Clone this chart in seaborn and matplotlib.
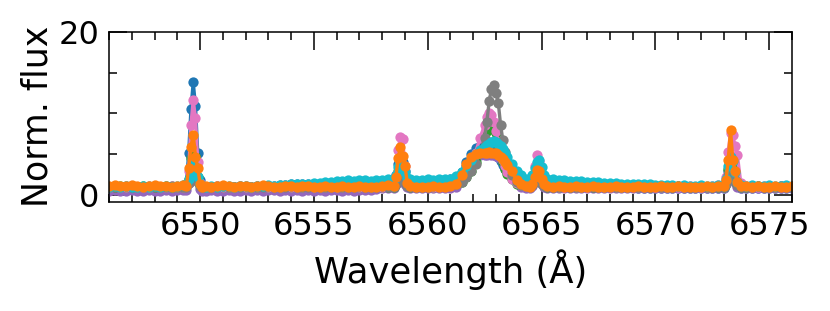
import numpy as np
import pandas as pd
import matplotlib
matplotlib.use("Agg")
import matplotlib.pyplot as plt
from matplotlib.ticker import MultipleLocator
import seaborn as sns

# ---------------- data ----------------
wavelength = [
    # continuum 6546-6549.25
    6546.0, 6546.25, 6546.5, 6546.75, 6547.0, 6547.25, 6547.5, 6547.75, 6548.0, 6548.25, 6548.5, 6548.75, 6549.0, 6549.25,
    # line ~6549.75
    6549.4, 6549.5, 6549.6, 6549.7, 6549.8, 6549.9, 6550.0, 6550.1,
    # continuum 6550.25-6558.25
    6550.25, 6550.5, 6550.75, 6551.0, 6551.25, 6551.5, 6551.75, 6552.0, 6552.25, 6552.5, 6552.75, 6553.0, 6553.25,
    6553.5, 6553.75, 6554.0, 6554.25, 6554.5, 6554.75, 6555.0, 6555.25, 6555.5, 6555.75, 6556.0, 6556.25, 6556.5,
    6556.75, 6557.0, 6557.25, 6557.5, 6557.75, 6558.0, 6558.25,
    # line ~6558.85
    6558.5, 6558.6, 6558.7, 6558.8, 6558.9, 6559.0, 6559.1, 6559.2,
    # continuum
    6559.5, 6559.75, 6560.0, 6560.25, 6560.5, 6560.75, 6561.0, 6561.25,
    # H-alpha
    6561.5, 6561.7, 6561.9, 6562.1, 6562.3, 6562.5, 6562.6, 6562.7, 6562.8, 6562.9, 6563.0, 6563.1, 6563.2, 6563.3,
    6563.4, 6563.5, 6563.7, 6563.9, 6564.1, 6564.3,
    # line ~6564.85
    6564.5, 6564.6, 6564.7, 6564.8, 6564.9, 6565.0, 6565.1, 6565.25,
    # continuum 6565.5-6572.75
    6565.5, 6565.75, 6566.0, 6566.25, 6566.5, 6566.75, 6567.0, 6567.25, 6567.5, 6567.75, 6568.0, 6568.25, 6568.5,
    6568.75, 6569.0, 6569.25, 6569.5, 6569.75, 6570.0, 6570.25, 6570.5, 6570.75, 6571.0, 6571.25, 6571.5, 6571.75,
    6572.0, 6572.25, 6572.5, 6572.75,
    # line ~6573.3
    6573.0, 6573.1, 6573.2, 6573.3, 6573.4, 6573.5, 6573.6, 6573.75,
    # continuum
    6574.0, 6574.25, 6574.5, 6574.75, 6575.0, 6575.25, 6575.5, 6575.75, 6576.0,
]

flux_blue = [
    1.0, 0.9, 1.0, 1.0, 0.9, 1.0, 1.0, 0.9, 1.0, 1.0, 0.9, 1.0, 1.0, 1.1,
    1.4, 5.1, 10.5, 13.8, 10.9, 5.1, 1.8, 1.1,
    1.0, 1.0, 0.9, 1.0, 1.0, 1.0, 0.9, 1.0, 1.0, 1.1, 1.0, 1.1, 1.1, 1.2, 1.2, 1.3, 1.3,
    1.3, 1.4, 1.4, 1.4, 1.5, 1.5, 1.5, 1.6, 1.6, 1.5, 1.6, 1.6, 1.6, 1.7, 1.6, 1.7,
    1.7, 2.4, 3.8, 4.6, 4.0, 2.9, 1.9, 1.7,
    1.6, 1.7, 1.6, 1.7, 1.7, 1.8, 1.9, 2.2,
    2.8, 4.0, 5.0, 5.7, 6.0, 6.0, 5.9, 5.8, 5.6, 5.3, 5.0, 4.6, 4.2, 3.7, 3.2, 2.8, 2.2, 1.8, 1.6, 1.5,
    1.5, 1.8, 2.6, 3.4, 3.3, 2.4, 1.7, 1.5,
    1.4, 1.4, 1.3, 1.3, 1.3, 1.2, 1.2, 1.2, 1.1, 1.1, 1.1, 1.0, 1.0, 1.0, 1.0,
    0.9, 0.9, 0.9, 0.9, 0.9, 0.9, 0.9, 0.9, 0.9, 0.9, 0.9, 0.9, 0.9, 0.9, 0.9,
    0.9, 1.5, 3.0, 4.2, 3.6, 2.2, 1.2, 0.9,
    0.9, 0.9, 0.9, 0.9, 0.9, 0.9, 0.9, 0.9, 0.9,
]

flux_purple = [
    0.5, 0.6, 0.5, 0.5, 0.6, 0.5, 0.5, 0.6, 0.5, 0.5, 0.6, 0.5, 0.6, 0.6,
    0.6, 1.5, 3.0, 4.0, 3.2, 1.6, 0.7, 0.5,
    0.5, 0.6, 0.5, 0.5, 0.6, 0.5, 0.5, 0.6, 0.5, 0.6, 0.5, 0.6, 0.6, 0.5, 0.6, 0.5, 0.6,
    0.5, 0.6, 0.5, 0.6, 0.5, 0.6, 0.6, 0.5, 0.6, 0.5, 0.6, 0.6, 0.6, 0.7, 0.8, 0.9,
    0.9, 1.3, 2.0, 2.5, 2.2, 1.4, 1.0, 0.9,
    0.9, 0.9, 0.9, 0.9, 0.9, 0.9, 0.9, 1.0,
    2.1, 3.5, 4.3, 4.7, 4.9, 4.9, 4.9, 5.0, 4.9, 4.9, 4.8, 4.6, 4.4, 4.1, 3.8, 3.4, 2.6, 1.5, 1.0, 0.9,
    0.9, 1.1, 1.6, 2.0, 1.9, 1.3, 1.0, 0.9,
    0.9, 0.9, 0.9, 0.9, 0.9, 0.9, 0.9, 0.9, 0.9, 0.9, 0.9, 0.9, 0.9, 0.9, 0.9,
    0.9, 0.9, 0.9, 0.9, 0.9, 0.9, 0.9, 0.9, 0.9, 0.9, 0.9, 0.9, 0.9, 0.9, 0.9,
    0.9, 1.3, 2.2, 3.0, 2.6, 1.6, 1.0, 0.9,
    0.9, 0.9, 0.9, 0.9, 0.9, 0.9, 0.9, 0.9, 0.9,
]

flux_green = [
    1.0, 1.0, 1.1, 1.0, 1.0, 1.0, 1.1, 1.0, 1.0, 1.0, 1.1, 1.0, 1.0, 1.0,
    1.1, 2.0, 4.5, 6.0, 4.8, 2.2, 1.2, 1.0,
    1.0, 1.0, 1.1, 1.0, 1.0, 1.0, 1.1, 1.0, 1.0, 1.0, 1.1, 1.0, 1.0, 1.0, 1.1, 1.0, 1.0,
    1.0, 1.1, 1.0, 1.0, 1.0, 1.1, 1.0, 1.0, 1.0, 1.1, 1.0, 1.0, 1.0, 1.1, 1.0, 1.0,
    1.0, 1.6, 3.0, 4.0, 3.4, 2.0, 1.2, 1.0,
    1.0, 1.0, 1.1, 1.0, 1.1, 1.1, 1.2, 1.3,
    1.6, 2.2, 3.0, 4.0, 5.3, 6.8, 7.8, 8.6, 9.2, 8.8, 7.6, 6.2, 5.0, 4.0, 3.2, 2.6, 1.9, 1.4, 1.2, 1.1,
    1.1, 1.4, 2.2, 2.9, 2.7, 1.8, 1.2, 1.0,
    1.0, 1.0, 1.1, 1.0, 1.0, 1.0, 1.1, 1.0, 1.0, 1.0, 1.1, 1.0, 1.0, 1.0, 1.1,
    1.0, 1.0, 1.0, 1.1, 1.0, 1.0, 1.0, 1.1, 1.0, 1.0, 1.0, 1.1, 1.0, 1.0, 1.0,
    1.0, 1.6, 3.2, 4.5, 3.8, 2.2, 1.3, 1.0,
    1.0, 1.0, 1.1, 1.0, 1.0, 1.0, 1.1, 1.0, 1.0,
]

flux_pink = [
    1.0, 1.1, 1.0, 1.0, 1.1, 1.0, 1.0, 1.0, 1.1, 1.0, 1.0, 1.1, 1.0, 1.0,
    1.2, 3.0, 8.6, 11.6, 9.4, 4.0, 1.5, 1.0,
    1.0, 1.0, 1.1, 1.0, 1.0, 1.0, 1.1, 1.0, 1.0, 1.0, 1.1, 1.0, 1.0, 1.0, 1.1, 1.0, 1.0,
    1.0, 1.1, 1.0, 1.0, 1.0, 1.1, 1.0, 1.0, 1.0, 1.1, 1.0, 1.0, 1.0, 1.1, 1.0, 1.1,
    1.2, 2.5, 5.5, 7.1, 6.8, 3.5, 1.6, 1.2,
    1.0, 1.0, 1.1, 1.0, 1.1, 1.1, 1.2, 1.4,
    1.8, 2.6, 3.8, 5.2, 7.0, 8.6, 9.5, 10.0, 9.8, 9.0, 7.8, 6.5, 5.3, 4.3, 3.5, 2.8, 2.0, 1.5, 1.2, 1.1,
    1.3, 2.0, 3.5, 4.9, 4.2, 2.5, 1.5, 1.2,
    1.1, 1.0, 1.0, 1.1, 1.0, 1.0, 1.0, 1.1, 1.0, 1.0, 1.1, 1.0, 1.0, 1.0, 1.1,
    1.0, 1.0, 1.1, 1.0, 1.0, 1.0, 1.1, 1.0, 1.0, 1.1, 1.0, 1.0, 1.0, 1.1, 1.2,
    1.3, 2.2, 5.3, 7.6, 7.3, 6.0, 4.9, 1.5,
    1.1, 1.0, 1.0, 1.1, 1.0, 1.0, 1.1, 1.0, 1.0,
]

flux_grey = [
    1.0, 1.0, 1.0, 1.1, 1.0, 1.0, 1.0, 1.1, 1.0, 1.0, 1.0, 1.1, 1.0, 1.0,
    1.0, 1.5, 2.5, 3.2, 2.6, 1.6, 1.1, 1.0,
    1.0, 1.0, 1.0, 1.1, 1.0, 1.0, 1.0, 1.1, 1.0, 1.0, 1.0, 1.1, 1.0, 1.0, 1.0, 1.1, 1.0,
    1.0, 1.0, 1.1, 1.0, 1.0, 1.0, 1.1, 1.0, 1.0, 1.0, 1.1, 1.0, 1.0, 1.0, 1.1, 1.0,
    1.0, 1.4, 2.2, 2.8, 2.4, 1.6, 1.1, 1.0,
    1.0, 1.0, 1.0, 1.1, 1.1, 1.2, 1.3, 1.4,
    1.6, 2.2, 2.9, 3.8, 5.2, 7.0, 9.0, 11.5, 13.0, 13.5, 12.5, 11.3, 8.6, 6.7, 5.3, 3.9, 2.5, 1.6, 1.2, 1.1,
    1.0, 1.2, 1.6, 2.0, 1.9, 1.4, 1.1, 1.0,
    1.0, 1.0, 1.1, 1.0, 1.0, 1.0, 1.1, 1.0, 1.0, 1.0, 1.1, 1.0, 1.0, 1.0, 1.1,
    1.0, 1.0, 1.0, 1.1, 1.0, 1.0, 1.0, 1.1, 1.0, 1.0, 1.0, 1.1, 1.0, 1.0, 1.0,
    1.0, 1.4, 2.4, 3.2, 2.8, 1.8, 1.2, 1.0,
    1.0, 1.0, 1.1, 1.0, 1.0, 1.0, 1.1, 1.0, 1.0,
]

flux_cyan = [
    1.0, 1.1, 1.0, 1.1, 1.0, 1.0, 1.1, 1.0, 1.1, 1.0, 1.1, 1.0, 1.1, 1.2,
    1.3, 2.0, 3.0, 3.8, 3.2, 2.2, 1.4, 1.1,
    1.0, 1.1, 1.0, 1.1, 1.1, 1.0, 1.1, 1.1, 1.0, 1.1, 1.1, 1.2, 1.1, 1.2, 1.2, 1.3, 1.3,
    1.4, 1.4, 1.5, 1.5, 1.6, 1.6, 1.7, 1.7, 1.8, 1.7, 1.8, 1.8, 1.7, 1.8, 1.8, 1.9,
    1.9, 2.4, 3.4, 4.0, 3.6, 2.8, 2.1, 1.9,
    1.8, 1.8, 1.9, 1.8, 1.9, 1.9, 2.0, 2.3,
    2.8, 3.6, 4.3, 5.0, 5.5, 5.9, 6.1, 6.3, 6.5, 6.6, 6.5, 6.3, 6.0, 5.6, 5.2, 4.7, 3.8, 3.0, 2.4, 2.0,
    1.9, 2.4, 3.3, 4.1, 4.3, 3.4, 2.4, 1.9,
    1.9, 1.8, 1.8, 1.7, 1.7, 1.7, 1.6, 1.6, 1.6, 1.5, 1.5, 1.5, 1.4, 1.4, 1.4,
    1.3, 1.3, 1.3, 1.2, 1.2, 1.2, 1.2, 1.1, 1.2, 1.1, 1.1, 1.2, 1.1, 1.1, 1.2,
    1.2, 2.0, 3.5, 4.7, 4.2, 2.8, 1.6, 1.2,
    1.1, 1.2, 1.1, 1.1, 1.2, 1.1, 1.1, 1.2, 1.1,
]

flux_orange = [
    1.1, 1.2, 1.1, 1.1, 1.2, 1.1, 1.0, 1.1, 1.2, 1.1, 1.1, 1.0, 1.1, 1.2,
    1.1, 3.3, 5.9, 7.4, 4.7, 3.3, 1.4, 1.0,
    1.1, 1.0, 1.1, 1.2, 1.1, 1.0, 1.1, 1.1, 1.0, 1.1, 1.2, 1.1, 1.0, 1.0, 1.1, 1.1, 1.0,
    1.1, 1.1, 1.0, 1.0, 1.1, 1.0, 1.0, 1.1, 1.0, 1.0, 1.1, 1.0, 1.0, 1.0, 1.1, 1.2,
    1.1, 2.2, 4.5, 5.9, 4.8, 3.6, 1.5, 1.1,
    1.0, 1.0, 1.0, 1.1, 1.0, 1.0, 1.1, 1.4,
    2.4, 3.8, 4.6, 5.0, 5.2, 5.2, 5.2, 5.3, 5.2, 5.2, 5.1, 4.9, 4.7, 4.4, 4.1, 3.7, 2.9, 1.8, 1.3, 1.1,
    1.0, 1.4, 2.2, 3.1, 3.0, 2.0, 1.3, 1.1,
    1.0, 1.1, 1.0, 1.0, 1.1, 1.0, 1.0, 1.1, 1.0, 1.0, 1.0, 1.1, 1.0, 1.0, 1.0,
    1.1, 1.0, 1.0, 1.0, 1.1, 1.0, 1.0, 1.1, 1.0, 1.0, 1.0, 1.0, 1.1, 1.0, 1.1,
    1.1, 1.8, 4.3, 8.0, 4.3, 2.9, 1.6, 1.1,
    1.1, 1.0, 1.1, 1.0, 1.0, 1.1, 1.0, 1.0, 1.1,
]

series_names = ["blue", "purple", "green", "pink", "grey", "cyan", "orange"]
series_flux = [flux_blue, flux_purple, flux_green, flux_pink, flux_grey, flux_cyan, flux_orange]
series_colors = ["#1f77b4", "#9467bd", "#2ca02c", "#e377c2", "#7f7f7f", "#17becf", "#ff7f0e"]

x_label = "Wavelength (\u00c5)"
y_label = "Norm. flux"

for name, flux in zip(series_names, series_flux):
    if len(flux) != len(wavelength):
        raise ValueError(f"{name}: {len(flux)} vs {len(wavelength)}")

# ---------------- plotting ----------------
sns.set_style("ticks")
plt.rcParams["font.family"] = ["DejaVu Sans"]
plt.rcParams["text.color"] = "black"
plt.rcParams["axes.labelcolor"] = "black"
plt.rcParams["xtick.color"] = "black"
plt.rcParams["ytick.color"] = "black"

fig = plt.figure(figsize=(8.3, 3.11), dpi=100)
ax = fig.add_axes([0.1313, 0.352, 0.8229, 0.546])

for name, flux, col in zip(series_names, series_flux, series_colors):
    df = pd.DataFrame({"wavelength": wavelength, "flux": flux})
    sns.lineplot(data=df, x="wavelength", y="flux", ax=ax, color=col,
                 marker="o", markersize=7.4, markeredgewidth=0,
                 linewidth=2.4, sort=False, estimator=None)

ax.set_xlim(6546.0, 6576.0)
ax.set_ylim(-0.8, 20)
ax.xaxis.set_major_locator(MultipleLocator(5))
ax.xaxis.set_minor_locator(MultipleLocator(1))
ax.yaxis.set_major_locator(MultipleLocator(20))
ax.yaxis.set_minor_locator(MultipleLocator(5))

ax.tick_params(which="both", direction="in", top=True, right=True, width=1.1,
               color="black", labelcolor="black")
ax.tick_params(which="major", length=13, labelsize=23, pad=7)
ax.tick_params(which="minor", length=6)
for s in ax.spines.values():
    s.set_linewidth(1.1)
    s.set_color("black")

ax.set_xlabel(x_label, fontsize=25.5, labelpad=5, color="black")
ax.set_ylabel(y_label, fontsize=25, labelpad=3, color="black")

fig.savefig("out.png", dpi=100)
